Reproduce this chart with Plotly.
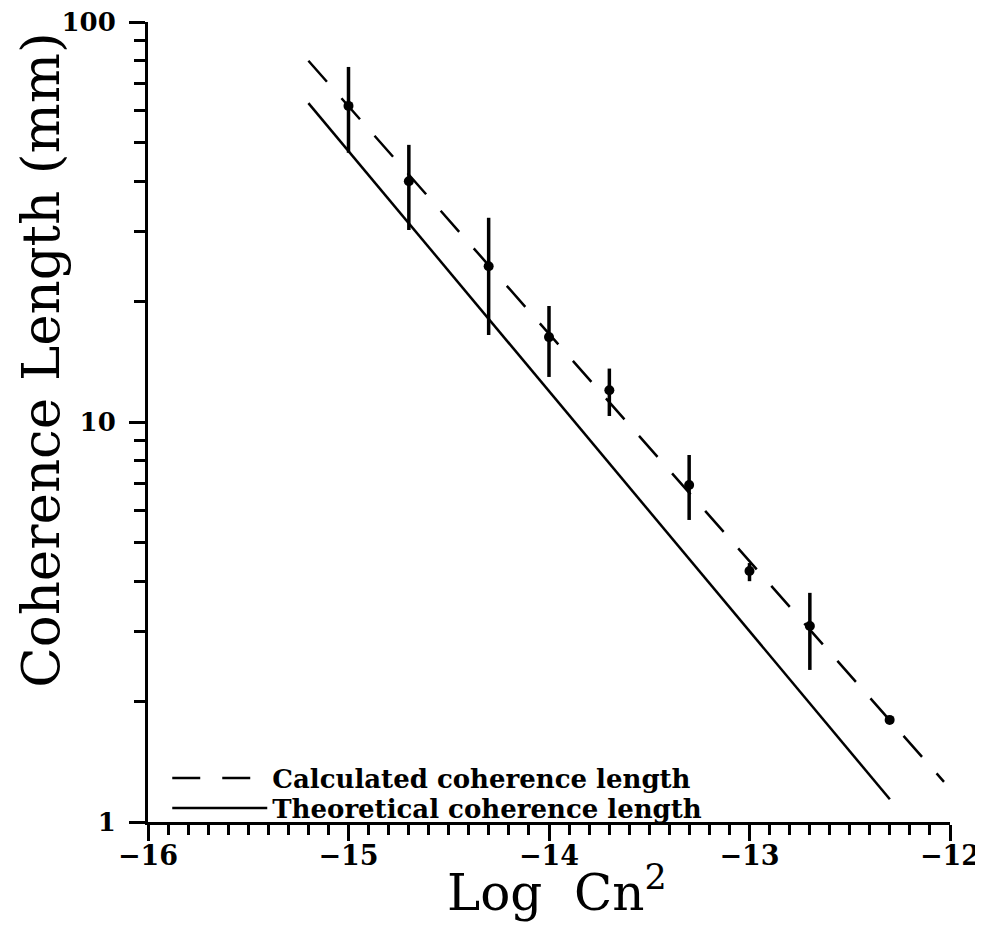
import plotly.graph_objects as go

# measured points (log10 Cn^2 vs coherence length in mm)
log_cn2 = [-15.0, -14.699, -14.301, -14.0, -13.699, -13.301, -13.0, -12.699, -12.301]
coh_len = [61.7, 40.0, 24.5, 16.3, 12.0, 6.96, 4.24, 3.09, 1.80]
coh_hi = [77.2, 49.3, 32.4, 19.5, 13.6, 8.27, 4.44, 3.74, 1.84]
coh_lo = [47.1, 30.2, 16.5, 12.96, 10.35, 5.69, 4.0, 2.4, 1.76]

# fitted (dashed) and theoretical (solid) lines, endpoints
fit_x = [-15.2, -12.03]
fit_y = [80.0, 1.26]
theo_x = [-15.2, -12.3]
theo_y = [62.7, 1.14]

x_ticks = [-16, -15, -14, -13, -12]
y_ticks = [1, 10, 100]
y_minor = [2, 3, 4, 5, 6, 7, 8, 9, 20, 30, 40, 50, 60, 70, 80, 90]

serif = "DejaVu Serif"

fig = go.Figure()

fig.add_trace(go.Scatter(
    x=log_cn2, y=coh_len, mode="markers", showlegend=False,
    marker=dict(color="black", size=10),
    error_y=dict(type="data", symmetric=False,
                 array=[h - v for h, v in zip(coh_hi, coh_len)],
                 arrayminus=[v - l for l, v in zip(coh_lo, coh_len)],
                 color="black", thickness=3.5, width=0),
))
fig.add_trace(go.Scatter(
    x=fit_x, y=fit_y, mode="lines", name="Calculated coherence length",
    line=dict(color="black", width=2.5, dash="28px,22px"), legend="legend",
))
fig.add_trace(go.Scatter(
    x=theo_x, y=theo_y, mode="lines", name="Theoretical coherence length",
    line=dict(color="black", width=2.5), legend="legend2",
))

fig.update_xaxes(
    range=[-16, -12], tickvals=x_ticks, ticktext=["\u2212" + str(abs(t)) for t in x_ticks],
    showline=True, linecolor="black", linewidth=3, showgrid=False, zeroline=False,
    ticks="outside", ticklen=16, tickwidth=3, tickcolor="black",
    minor=dict(dtick=0.1, ticks="outside", ticklen=10, tickwidth=2.5, tickcolor="black", showgrid=False),
    tickfont=dict(family=serif, size=27, color="black", weight="bold"),
    ticklabelstandoff=-8, ticklabeloverflow="allow", automargin=False,
)
fig.update_yaxes(
    type="log", range=[0, 2], tickvals=y_ticks, ticktext=[str(t) for t in y_ticks],
    showline=True, linecolor="black", linewidth=3, showgrid=False, zeroline=False,
    ticks="outside", ticklen=16, tickwidth=2.5, tickcolor="black",
    minor=dict(tickvals=y_minor, ticks="outside", ticklen=11, tickwidth=2.5, tickcolor="black", showgrid=False),
    tickfont=dict(family=serif, size=26, color="black", weight="bold"),
    ticklabelstandoff=8, ticklabeloverflow="allow", automargin=False,
)

fig.add_annotation(text="Log  Cn<sup>2</sup>", xref="paper", yref="paper",
                   x=0.51, y=-0.084, xanchor="center", yanchor="middle", showarrow=False,
                   borderpad=0, font=dict(family=serif, size=50, color="black"))
fig.add_annotation(text="Coherence Length (mm)", xref="paper", yref="paper",
                   x=-0.135, y=0.5775, xanchor="center", yanchor="middle", showarrow=False,
                   borderpad=0, textangle=-90, font=dict(family=serif, size=53, color="black"))

legend_font = dict(family=serif, size=26, color="black", weight="bold")
fig.update_layout(
    width=975, height=917,
    margin=dict(l=140, r=33, t=14, b=103),
    plot_bgcolor="white", paper_bgcolor="white",
    legend=dict(x=0.024, y=0.055, xanchor="left", yanchor="middle",
                bgcolor="rgba(0,0,0,0)", itemwidth=95, font=legend_font),
    legend2=dict(x=0.024, y=0.0175, xanchor="left", yanchor="middle",
                 bgcolor="rgba(0,0,0,0)", itemwidth=95, font=legend_font),
)

fig.write_html("out.html")
